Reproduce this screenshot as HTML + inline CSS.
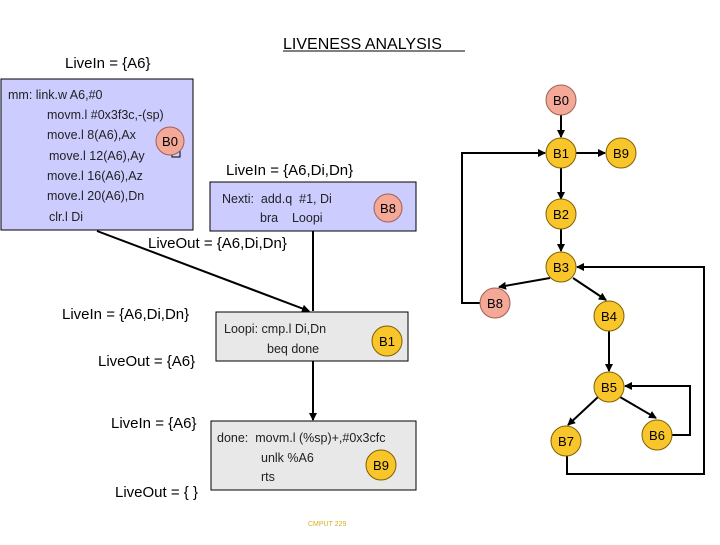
<!DOCTYPE html>
<html><head><style>
body{margin:0;background:#fff;}
svg text{font-family:"Liberation Sans",Arial,sans-serif;white-space:pre;}
</style></head><body>
<svg width="720" height="540" viewBox="0 0 720 540" xmlns="http://www.w3.org/2000/svg">
<defs><marker id="a" markerWidth="8" markerHeight="8" refX="7" refY="4" orient="auto" markerUnits="userSpaceOnUse"><path d="M0,0 L8,4 L0,8 z" fill="#000"/></marker></defs>
<text x="283" y="49" font-size="16">LIVENESS ANALYSIS</text>
<line x1="283" y1="51" x2="465" y2="51" stroke="#000" stroke-width="1"/>
<text x="65" y="68" font-size="15">LiveIn = {A6}</text>
<rect x="1" y="79" width="192" height="151" fill="#ccccff" stroke="#000" stroke-width="1"/>
<g font-size="12.5" fill="#222">
<text x="8" y="99">mm: link.w A6,#0</text>
<text x="47" y="119">movm.l #0x3f3c,-(sp)</text>
<text x="47" y="139">move.l 8(A6),Ax</text>
<text x="49" y="160">move.l 12(A6),Ay</text>
<text x="47" y="180">move.l 16(A6),Az</text>
<text x="47" y="200">move.l 20(A6),Dn</text>
<text x="49" y="221">clr.l Di</text>
</g>
<rect x="172" y="150" width="8" height="7" fill="none" stroke="#000" stroke-width="1"/>
<circle cx="170" cy="141" r="14" fill="#f4a898" stroke="#a06050"/>
<text x="170" y="146" font-size="13" text-anchor="middle">B0</text>
<text x="226" y="175" font-size="15">LiveIn = {A6,Di,Dn}</text>
<rect x="210" y="182" width="206" height="49" fill="#ccccff" stroke="#000"/>
<text x="222" y="203" font-size="12.5" fill="#222">Nexti:  add.q  #1, Di</text>
<text x="260" y="222" font-size="12.5" fill="#222">bra    Loopi</text>
<circle cx="388" cy="208" r="14" fill="#f4a898" stroke="#a06050"/>
<text x="388" y="213" font-size="13" text-anchor="middle">B8</text>
<text x="148" y="248" font-size="15">LiveOut = {A6,Di,Dn}</text>
<line x1="97" y1="231" x2="309" y2="311" stroke="#000" stroke-width="2" marker-end="url(#a)"/>
<line x1="313" y1="231" x2="313" y2="311" stroke="#000" stroke-width="2"/>
<text x="62" y="319" font-size="15">LiveIn = {A6,Di,Dn}</text>
<text x="98" y="366" font-size="15">LiveOut = {A6}</text>
<rect x="216" y="312" width="192" height="49" fill="#e8e8e8" stroke="#000"/>
<text x="224" y="333" font-size="12.5" fill="#222">Loopi: cmp.l Di,Dn</text>
<text x="267" y="353" font-size="12.5" fill="#222">beq done</text>
<circle cx="387" cy="341" r="15" fill="#f8c52a" stroke="#806000"/>
<text x="387" y="346" font-size="13" text-anchor="middle">B1</text>
<line x1="313" y1="361" x2="313" y2="420" stroke="#000" stroke-width="2" marker-end="url(#a)"/>
<text x="111" y="428" font-size="15">LiveIn = {A6}</text>
<text x="115" y="497" font-size="15">LiveOut = { }</text>
<rect x="211" y="421" width="205" height="69" fill="#e8e8e8" stroke="#000"/>
<text x="217" y="442" font-size="12.5" fill="#222">done:  movm.l (%sp)+,#0x3cfc</text>
<text x="261" y="462" font-size="12.5" fill="#222">unlk %A6</text>
<text x="261" y="481" font-size="12.5" fill="#222">rts</text>
<circle cx="381" cy="465" r="15" fill="#f8c52a" stroke="#806000"/>
<text x="381" y="470" font-size="13" text-anchor="middle">B9</text>
<text x="308" y="526" font-size="7" fill="#d8b020">CMPUT 229</text>
<g stroke="#000" stroke-width="2" fill="none">
<line x1="561" y1="115" x2="561" y2="137" marker-end="url(#a)"/>
<line x1="576" y1="153" x2="605" y2="153" marker-end="url(#a)"/>
<line x1="561" y1="168" x2="561" y2="199" marker-end="url(#a)"/>
<line x1="561" y1="229" x2="561" y2="251" marker-end="url(#a)"/>
<line x1="550" y1="278" x2="499" y2="287" marker-end="url(#a)"/>
<line x1="573" y1="278" x2="606" y2="300" marker-end="url(#a)"/>
<line x1="609" y1="331" x2="609" y2="371" marker-end="url(#a)"/>
<line x1="598" y1="397" x2="568" y2="425" marker-end="url(#a)"/>
<line x1="620" y1="397" x2="656" y2="418" marker-end="url(#a)"/>
<polyline points="481,303 462,303 462,153 545,153" marker-end="url(#a)"/>
<polyline points="672,435 690,435 690,386 625,386" marker-end="url(#a)"/>
<polyline points="567,456 567,474 704,474 704,267 577,267" marker-end="url(#a)"/>
</g>
<g font-size="13" text-anchor="middle">
<circle cx="561" cy="100" r="15" fill="#f4a898" stroke="#a06050"/><text x="561" y="105">B0</text>
<circle cx="561" cy="153" r="15" fill="#f8c52a" stroke="#806000"/><text x="561" y="158">B1</text>
<circle cx="621" cy="153" r="15" fill="#f8c52a" stroke="#806000"/><text x="621" y="158">B9</text>
<circle cx="561" cy="214" r="15" fill="#f8c52a" stroke="#806000"/><text x="561" y="219">B2</text>
<circle cx="561" cy="267" r="15" fill="#f8c52a" stroke="#806000"/><text x="561" y="272">B3</text>
<circle cx="495" cy="303" r="15" fill="#f4a898" stroke="#a06050"/><text x="495" y="308">B8</text>
<circle cx="609" cy="316" r="15" fill="#f8c52a" stroke="#806000"/><text x="609" y="321">B4</text>
<circle cx="609" cy="387" r="15" fill="#f8c52a" stroke="#806000"/><text x="609" y="392">B5</text>
<circle cx="566" cy="441" r="15" fill="#f8c52a" stroke="#806000"/><text x="566" y="446">B7</text>
<circle cx="657" cy="435" r="15" fill="#f8c52a" stroke="#806000"/><text x="657" y="440">B6</text>
</g>
</svg>
</body></html>
